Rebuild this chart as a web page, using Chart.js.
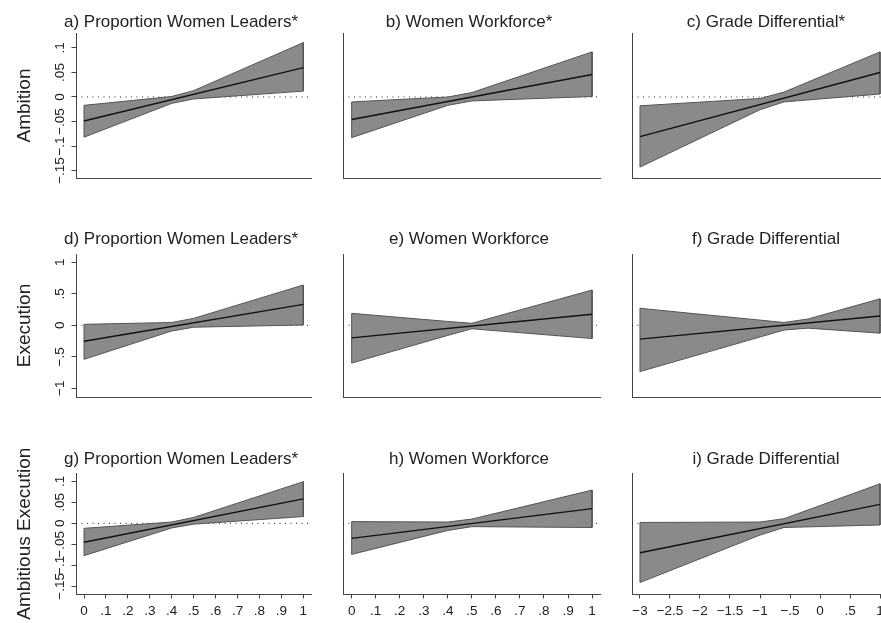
<!DOCTYPE html>
<html>
<head>
<meta charset="utf-8">
<title>Conditional effects by moderator</title>
<script src="https://cdn.jsdelivr.net/npm/chart.js@4/dist/chart.umd.min.js"></script>
<style>
  html, body { margin: 0; padding: 0; background: #ffffff; width: 881px; height: 623px; overflow: hidden; position: relative; }
  canvas { position: absolute; }
</style>
</head>
<body>
<script>
const FONT = '"Liberation Sans", Arial, Helvetica, sans-serif';

// ---- tick values and labels ----
const shareTicks = [0, 0.1, 0.2, 0.3, 0.4, 0.5, 0.6, 0.7, 0.8, 0.9, 1];
const shareTickLabels = ['0', '.1', '.2', '.3', '.4', '.5', '.6', '.7', '.8', '.9', '1'];
const gradeTicks = [-3, -2.5, -2, -1.5, -1, -0.5, 0, 0.5, 1];
const gradeTickLabels = ['\u22123', '\u22122.5', '\u22122', '\u22121.5', '\u22121', '\u2212.5', '0', '.5', '1'];
const smallEffectTicks = [-0.15, -0.1, -0.05, 0, 0.05, 0.1];
const smallEffectTickLabels = ['\u2212.15', '\u2212.1', '\u2212.05', '0', '.05', '.1'];
const executionTicks = [-1, -0.5, 0, 0.5, 1];
const executionTickLabels = ['\u22121', '\u2212.5', '0', '.5', '1'];

// ---- row labels and panel titles ----
const rowLabels = ['Ambition', 'Execution', 'Ambitious Execution'];
const panelTitles = [
  'a) Proportion Women Leaders*', 'b) Women Workforce*', 'c) Grade Differential*',
  'd) Proportion Women Leaders*', 'e) Women Workforce', 'f) Grade Differential',
  'g) Proportion Women Leaders*', 'h) Women Workforce', 'i) Grade Differential'
];

// ---- moderator values ----
const shareRange = [0, 1];          // ends of the fitted line, share moderators
const gradeRange = [-3, 1];         // ends of the fitted line, grade differential
const shareBandX = [0, 0.4, 0.5, 1];
const gradeBandX = [-3, -1, -0.6, 1];
const gradeBandXExec = [-3, -0.6, -0.2, 1];

// ---- a) Ambition x Proportion Women Leaders ----
const ambLeadersEffect = [-0.049, 0.060];
const ambLeadersUpper = [-0.017, 0.001, 0.013, 0.111];
const ambLeadersLower = [-0.082, -0.013, -0.004, 0.012];
// ---- b) Ambition x Women Workforce ----
const ambWorkforceEffect = [-0.046, 0.046];
const ambWorkforceUpper = [-0.010, 0.000, 0.009, 0.092];
const ambWorkforceLower = [-0.083, -0.017, -0.008, 0.001];
// ---- c) Ambition x Grade Differential ----
const ambGradeEffect = [-0.081, 0.050];
const ambGradeUpper = [-0.018, -0.003, 0.010, 0.092];
const ambGradeLower = [-0.143, -0.026, -0.010, 0.006];
// ---- d) Execution x Proportion Women Leaders ----
const exeLeadersEffect = [-0.254, 0.333];
const exeLeadersUpper = [0.016, 0.045, 0.110, 0.640];
const exeLeadersLower = [-0.540, -0.090, -0.030, 0.005];
// ---- e) Execution x Women Workforce ----
const exeWorkforceEffect = [-0.200, 0.175];
const exeWorkforceUpper = [0.190, 0.061, 0.032, 0.560];
const exeWorkforceLower = [-0.600, -0.160, -0.055, -0.210];
// ---- f) Execution x Grade Differential ----
const exeGradeEffect = [-0.220, 0.147];
const exeGradeUpper = [0.270, 0.045, 0.100, 0.420];
const exeGradeLower = [-0.735, -0.075, -0.045, -0.125];
// ---- g) Ambitious Execution x Proportion Women Leaders ----
const ambExeLeadersEffect = [-0.045, 0.058];
const ambExeLeadersUpper = [-0.012, 0.003, 0.014, 0.099];
const ambExeLeadersLower = [-0.077, -0.011, -0.002, 0.016];
// ---- h) Ambitious Execution x Women Workforce ----
const ambExeWorkforceEffect = [-0.036, 0.035];
const ambExeWorkforceUpper = [0.004, 0.003, 0.010, 0.079];
const ambExeWorkforceLower = [-0.074, -0.017, -0.008, -0.010];
// ---- i) Ambitious Execution x Grade Differential ----
const ambExeGradeEffect = [-0.070, 0.045];
const ambExeGradeUpper = [0.002, 0.003, 0.011, 0.094];
const ambExeGradeLower = [-0.141, -0.028, -0.010, -0.004];

// ---- page layout of the 3 x 3 grid ----
const colLayout = [
  { left: 0,   right: 362, yW: 76, padW: 51, xMin: -0.0365, xMax: 1.035, ticks: shareTicks, labels: shareTickLabels },
  { left: 330, right: 608, yW: 13, padW: 8,  xMin: -0.036,  xMax: 1.033, ticks: shareTicks, labels: shareTickLabels },
  { left: 622, right: 910, yW: 10, padW: 22, xMin: -3.133,  xMax: 1.133, ticks: gradeTicks, labels: gradeTickLabels }
];
const rowLayout = [
  { top: 0,   bottom: 198, titleTop: 12.2, titleBottom: 0.4, xH: 20, yMin: -0.1653, yMax: 0.1306, ticks: smallEffectTicks, labels: smallEffectTickLabels, tickPad: -1.8 },
  { top: 218, bottom: 417, titleTop: 11.6, titleBottom: 4.0, xH: 20, yMin: -1.138,  yMax: 1.132,  ticks: executionTicks,  labels: executionTickLabels,  tickPad: 1.9 },
  { top: 437, bottom: 624, titleTop: 11.9, titleBottom: 4.0, xH: 30, yMin: -0.1683, yMax: 0.119,  ticks: smallEffectTicks, labels: smallEffectTickLabels, tickPad: -1.8 }
];

const panels = [
  { row: 0, col: 0, range: shareRange, effect: ambLeadersEffect,      bandX: shareBandX,     upper: ambLeadersUpper,      lower: ambLeadersLower },
  { row: 0, col: 1, range: shareRange, effect: ambWorkforceEffect,    bandX: shareBandX,     upper: ambWorkforceUpper,    lower: ambWorkforceLower },
  { row: 0, col: 2, range: gradeRange, effect: ambGradeEffect,        bandX: gradeBandX,     upper: ambGradeUpper,        lower: ambGradeLower },
  { row: 1, col: 0, range: shareRange, effect: exeLeadersEffect,      bandX: shareBandX,     upper: exeLeadersUpper,      lower: exeLeadersLower },
  { row: 1, col: 1, range: shareRange, effect: exeWorkforceEffect,    bandX: shareBandX,     upper: exeWorkforceUpper,    lower: exeWorkforceLower },
  { row: 1, col: 2, range: gradeRange, effect: exeGradeEffect,        bandX: gradeBandXExec, upper: exeGradeUpper,        lower: exeGradeLower },
  { row: 2, col: 0, range: shareRange, effect: ambExeLeadersEffect,   bandX: shareBandX,     upper: ambExeLeadersUpper,   lower: ambExeLeadersLower },
  { row: 2, col: 1, range: shareRange, effect: ambExeWorkforceEffect, bandX: shareBandX,     upper: ambExeWorkforceUpper, lower: ambExeWorkforceLower },
  { row: 2, col: 2, range: gradeRange, effect: ambExeGradeEffect,     bandX: gradeBandX,     upper: ambExeGradeUpper,     lower: ambExeGradeLower }
];

const AXIS_COLOR = '#444444';
const TEXT_COLOR = '#222222';
const BAND_FILL = '#8a8a8d';
const BAND_EDGE = '#555555';

// closed outline of a confidence band: upper edge forward, lower edge back
function bandPolygon(xs, upper, lower) {
  const pts = xs.map((x, i) => ({ x: x, y: upper[i] }));
  for (let i = xs.length - 1; i >= 0; i--) pts.push({ x: xs[i], y: lower[i] });
  pts.push({ x: xs[0], y: upper[0] });
  return pts;
}

panels.forEach((p, idx) => {
  const c = colLayout[p.col];
  const r = rowLayout[p.row];
  const showY = p.col === 0;
  const showX = p.row === 2;

  const canvas = document.createElement('canvas');
  const w = c.right - c.left;
  const h = r.bottom - r.top;
  canvas.width = w; canvas.height = h;
  canvas.style.width = w + 'px'; canvas.style.height = h + 'px';
  canvas.style.left = c.left + 'px'; canvas.style.top = r.top + 'px';
  document.body.appendChild(canvas);

  new Chart(canvas, {
    type: 'line',
    data: {
      datasets: [
        { // fitted conditional effect
          data: p.range.map((x, i) => ({ x: x, y: p.effect[i] })),
          borderColor: '#111111', borderWidth: 1.4, pointRadius: 0, fill: false, order: 0
        },
        { // 95% confidence band
          data: bandPolygon(p.bandX, p.upper, p.lower),
          borderColor: BAND_EDGE, borderWidth: 1, backgroundColor: BAND_FILL,
          pointRadius: 0, fill: 'shape', tension: 0, order: 1
        },
        { // zero reference line
          data: [{ x: c.xMin, y: 0 }, { x: c.xMax, y: 0 }],
          borderColor: '#222222', borderWidth: 1, borderDash: [1, 4.5],
          pointRadius: 0, fill: false, order: 2
        }
      ]
    },
    options: {
      responsive: false,
      animation: false,
      devicePixelRatio: 1,
      events: [],
      layout: { padding: 0 },
      plugins: {
        legend: { display: false },
        tooltip: { enabled: false },
        title: {
          display: true,
          text: panelTitles[idx],
          color: TEXT_COLOR,
          font: { family: FONT, size: 17, weight: 'normal', lineHeight: 1.2 },
          padding: { top: r.titleTop, bottom: r.titleBottom }
        }
      },
      scales: {
        x: {
          type: 'linear',
          min: c.xMin, max: c.xMax,
          afterBuildTicks: s => { s.ticks = c.ticks.map(v => ({ value: v })); },
          afterFit: s => { s.height = r.xH; },
          grid: { display: true, drawOnChartArea: false, drawTicks: showX, tickLength: 4.5, color: AXIS_COLOR, lineWidth: 1 },
          border: { display: true, color: AXIS_COLOR, width: 1 },
          ticks: {
            display: showX, autoSkip: false, maxRotation: 0, minRotation: 0, padding: 5,
            color: TEXT_COLOR, font: { family: FONT, size: 13.5 },
            callback: (v, i) => c.labels[i]
          }
        },
        y: {
          type: 'linear',
          position: 'left',
          min: r.yMin, max: r.yMax,
          afterBuildTicks: s => { s.ticks = r.ticks.map(v => ({ value: v })); },
          afterFit: s => { s.width = c.yW; },
          grid: { display: true, drawOnChartArea: false, drawTicks: showY, tickLength: 4.5, color: AXIS_COLOR, lineWidth: 1 },
          border: { display: true, color: AXIS_COLOR, width: 1 },
          ticks: {
            display: showY, autoSkip: false, minRotation: 90, maxRotation: 90,
            crossAlign: 'center', padding: r.tickPad,
            color: TEXT_COLOR, font: { family: FONT, size: 13.5 },
            callback: (v, i) => r.labels[i]
          },
          title: {
            display: showY,
            text: rowLabels[p.row],
            color: TEXT_COLOR,
            font: { family: FONT, size: 19, weight: 'normal', lineHeight: 1.2 },
            padding: { top: 13.1, bottom: 0 }
          }
        },
        pad: {
          type: 'linear',
          position: 'right',
          display: true,
          afterFit: s => { s.width = c.padW; },
          grid: { display: false, drawTicks: false },
          border: { display: false },
          ticks: { display: false }
        }
      }
    }
  });
});
</script>
</body>
</html>
